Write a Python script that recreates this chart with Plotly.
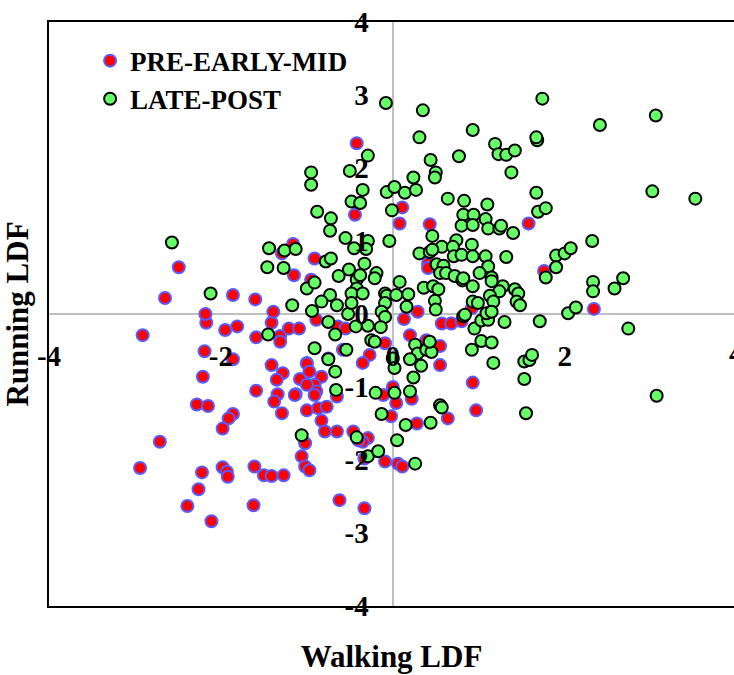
import plotly.graph_objects as go

# ---------------- data ----------------
SERIES_A = "PRE-EARLY-MID"
SERIES_B = "LATE-POST"

pre_x = [-2.91, -2.65, -2.49, -2.94, -2.71, -2.39, -2.26, -2.22, -2.11, -2.19,
         -1.86, -2.21, -1.59, -2.28, -2.15, -1.86, -1.91, -1.98, -1.98, -1.93,
         -1.92, -1.61, -1.50, -1.41, -1.27, -1.62, -2.17, -1.95, -1.81, -1.59,
         -1.41, -1.31, -1.31, -1.21, -1.09, -1.41, -1.28, -1.35, -1.08, -1.00,
         -1.34, -1.38, -1.29, -1.13, -1.00, -1.06, -1.02, -1.02, -1.86, -1.60,
         -2.18, -1.39, -1.16, -1.29, -1.15, -0.91, -0.95, -0.89, -0.44, -0.42,
         0.11, 0.08, 0.43, -0.64, -0.55, 0.13, 0.29, 0.41, 0.41, 0.92,
         0.57, 0.68, 0.80, 0.93, -0.27, -0.35, -0.09, 0.20, 0.39, 0.55,
         0.55, -0.58, -0.75, -1.00, -0.97, -0.83, -0.91, -1.00, -0.89, -0.65,
         0.00, -0.11, -1.14, -0.91, -0.87, -0.77, -0.83, -0.79, -0.65, -0.46,
         -0.29, -0.35, -0.97, -0.62, -0.33, -0.09, 0.06, 0.11, -0.02, 0.28,
         0.64, 0.97, 0.04, 0.22, -0.40, -0.33, 1.58, 1.76, 2.34]
pre_y = [-0.29, 0.22, 0.64, -2.11, -1.75, -2.63, -2.40, -2.17, -2.84, -0.51,
         -0.62, -0.86, -1.05, -1.24, -1.26, -1.37, -1.43, -1.57, -2.10, -2.16,
         -2.23, -2.09, -2.21, -2.22, -2.21, -2.62, -0.12, -0.22, -0.17, -0.32,
         -0.12, -0.30, -0.38, -0.20, -0.20, -0.70, -0.81, -0.90, -0.89, -0.67,
         -1.10, -1.20, -1.36, -1.10, -1.32, -1.95, -2.09, -1.77, 0.26, 0.20,
         0.00, 0.03, 0.96, 0.83, 0.53, 0.76, 0.47, -0.08, 1.36, 2.34,
         1.46, 1.24, 1.23, -0.17, -0.20, -0.07, 0.03, 0.69, 0.63, 0.08,
         -0.13, -0.13, -0.10, -0.94, -0.56, -0.67, -0.40, -0.29, -0.36, -0.44,
         -0.70, -0.49, -0.61, -0.68, -0.79, -0.86, -0.97, -0.97, -1.06, -1.13,
         -1.00, -1.11, -1.11, -1.11, -1.29, -1.27, -1.46, -1.61, -1.61, -1.61,
         -1.70, -1.75, -2.14, -2.55, -2.66, -2.02, -2.05, -2.09, -1.40, -1.50,
         -1.43, -1.32, -1.22, -1.16, -1.73, -1.98, 1.24, 0.59, 0.07]

late_x = [-2.57, -2.12, -1.45, -1.06, -1.44, -1.26, -1.13, -1.46, -1.27, -0.95,
          -0.95, -0.88, -1.00, -0.91, -1.17, -0.94, -0.78, -0.72, -0.72, -0.73,
          -0.55, -0.45, -0.50, -0.48, -0.38, -0.35, -0.29, -0.63, -0.51, -0.42,
          -0.42, -0.73, -0.83, -0.65, -0.48, -0.75, -0.67, -0.52, -0.08, 0.35,
          0.93, 0.31, 0.44, 0.77, 0.50, 0.49, 0.24, -0.07, 0.02, 0.14,
          0.27, -0.01, 0.64, 0.83, 0.82, 0.94, 0.80, 0.93, 0.46, 0.74,
          -0.29, -0.04, 0.57, 0.70, 0.92, -0.31, -0.33, -0.38, -0.19, -0.21,
          0.08, -0.35, -0.48, -0.09, -0.07, 0.04, 0.18, -0.09, -0.13, -0.09,
          0.16, -0.43, -0.29, -0.14, 0.31, 0.43, 0.46, 0.71, 0.80, 0.93,
          0.51, 0.59, 0.55, 0.62, 0.72, 0.81, 0.93, 0.36, 0.47, 0.53,
          0.49, 0.50, 0.82, 0.93, 0.95, 0.92, -0.25, -0.21, 0.00, 0.26,
          0.29, 0.39, 0.45, 0.43, 0.20, 0.33, 0.02, 0.24, 0.20, 0.02,
          -0.20, -0.67, -0.66, -0.91, -0.75, -0.54, -0.42, -0.29, -0.17, -0.13,
          0.15, 0.44, 0.55, 0.57, 0.05, 0.26, 1.19, 1.23, 1.32, 1.42,
          1.68, 1.38, 1.67, 3.02, 1.69, 1.78, 1.10, 1.08, 1.11, 1.24,
          1.26, 1.40, 2.32, 1.08, 1.11, 1.01, 1.15, 1.32, 1.90, 2.00,
          2.07, 1.90, 1.78, 2.33, 2.33, 2.58, 2.68, 0.82, 1.28, 1.42,
          1.46, 1.24, 1.13, 1.15, 1.44, 1.48, 1.17, 0.99, 0.84, 1.03,
          1.11, 1.09, 1.15, 1.30, 1.71, 2.04, 2.13, 2.74, 1.03, 1.15,
          1.17, 1.53, 1.59, 1.62, 1.53, 1.55, 3.07, 1.74, 2.41, 3.06,
          1.67, 3.52]
late_y = [0.98, 0.28, -0.28, -1.66, 0.90, 0.87, 0.89, 0.64, 0.63, 1.94,
          1.77, 1.40, 0.35, 0.43, 0.12, 0.04, 0.72, 0.76, 1.31, 1.14,
          1.04, 0.90, 1.96, 1.54, 1.52, 1.70, 2.17, 0.52, 0.61, 0.47,
          0.35, 0.26, 0.17, 0.12, 0.28, -0.11, -0.28, 0.00, 2.89, 2.79,
          2.52, 2.42, 2.11, 2.16, 1.94, 1.87, 1.87, 1.67, 1.74, 1.66,
          1.70, 1.42, 1.58, 1.55, 1.36, 1.36, 1.21, 1.22, 1.07, 1.01,
          1.00, 1.00, 0.92, 0.92, 0.95, 0.89, 0.69, 0.53, 0.56, 0.49,
          0.44, 0.28, 0.15, 0.28, 0.25, 0.26, 0.27, 0.15, 0.03, -0.04,
          0.10, -0.17, -0.16, -0.18, 0.83, 0.85, 0.88, 0.79, 0.81, 0.79,
          0.68, 0.66, 0.56, 0.56, 0.52, 0.46, 0.38, 0.36, 0.38, 0.34,
          0.18, 0.06, -0.03, 0.17, -0.20, -0.49, -0.36, -0.38, -0.61, -0.42,
          -0.54, -0.49, -0.52, -0.38, -0.62, -0.71, -0.74, -0.87, -1.06, -1.08,
          -1.08, -0.79, -1.04, -0.47, -0.62, -0.49, -1.69, -1.95, -1.88, -1.37,
          -1.52, -1.49, -1.25, -1.28, -1.73, -2.05, 2.33, 2.19, 2.18, 2.24,
          2.38, 1.94, 1.66, 1.68, 1.40, 1.45, 1.50, 1.30, 1.17, 1.17,
          1.21, 1.11, 1.00, 0.79, 0.65, 0.56, 0.50, 0.78, 0.80, 0.83,
          0.90, 0.64, 0.50, 0.44, 0.31, 0.35, 0.49, 0.49, 0.38, 0.34,
          0.28, 0.31, 0.25, 0.45, 0.17, 0.12, 0.17, 0.15, -0.01, -0.09,
          -0.08, 0.01, 0.03, -0.11, -0.10, 0.01, 0.09, -0.20, -0.37, -0.39,
          -0.67, -0.65, -0.63, -0.56, -0.89, -1.36, -1.12, 2.95, 2.59, 2.72,
          2.42, 1.58]

x_tick_vals = [-4, -2, 0, 2, 4]
y_tick_vals = [-4, -3, -2, -1, 0, 1, 2, 3, 4]
X_RANGE = [-4, 3.97]
Y_RANGE = [-4, 4]
X_TITLE = "Walking LDF"
Y_TITLE = "Running LDF"

# ---------------- style ----------------
FONT = "Liberation Serif, Times New Roman, serif"
TICK_SIZE = 29

fig = go.Figure()
fig.add_trace(go.Scatter(
    x=pre_x, y=pre_y, mode="markers", name=SERIES_A,
    marker=dict(size=12, color="#ff0000", line=dict(color="#5a5aff", width=2)),
))
fig.add_trace(go.Scatter(
    x=late_x, y=late_y, mode="markers", name=SERIES_B,
    marker=dict(size=12, color="#66ff66", line=dict(color="#000000", width=2)),
))
# helper subplot that only carries the tick labels placed on the zero lines
fig.add_trace(go.Scatter(x=[None], y=[None], xaxis="x2", yaxis="y2",
                         showlegend=False, hoverinfo="skip"))

fig.update_layout(
    width=734, height=675,
    margin=dict(l=49, r=0, t=22, b=69),
    paper_bgcolor="white", plot_bgcolor="white",
    font=dict(family=FONT, color="black"),
    showlegend=True,
    legend=dict(x=0.06, y=0.975, xanchor="left", yanchor="top",
                bgcolor="rgba(0,0,0,0)", itemwidth=30,
                font=dict(family=FONT, size=27, weight="bold", color="black")),
    xaxis=dict(range=X_RANGE, showline=True, linecolor="black", linewidth=2,
               mirror=True, showgrid=False, zeroline=True, zerolinecolor="#bfbfbf",
               zerolinewidth=2, showticklabels=False, ticks="",
               title=dict(text=X_TITLE, standoff=38,
                          font=dict(family=FONT, size=31, weight="bold"))),
    yaxis=dict(range=Y_RANGE, showline=True, linecolor="black", linewidth=2,
               mirror=False, showgrid=False, zeroline=True, zerolinecolor="#bfbfbf",
               zerolinewidth=2, showticklabels=False, ticks="",
               title=dict(text=Y_TITLE, standoff=10,
                          font=dict(family=FONT, size=31, weight="bold"))),
    xaxis2=dict(range=X_RANGE, overlaying="x", anchor="free",
                position=(0 - Y_RANGE[0]) / (Y_RANGE[1] - Y_RANGE[0]),
                showline=False, showgrid=False, zeroline=False, ticks="",
                tickvals=x_tick_vals, ticktext=[str(v) for v in x_tick_vals],
                ticklabelstandoff=22,
                tickfont=dict(family=FONT, size=TICK_SIZE, weight="bold")),
    yaxis2=dict(range=Y_RANGE, overlaying="y", anchor="free", side="left",
                position=(0 - X_RANGE[0]) / (X_RANGE[1] - X_RANGE[0]),
                showline=False, showgrid=False, zeroline=False, ticks="",
                tickvals=y_tick_vals, ticktext=[str(v) for v in y_tick_vals],
                ticklabelstandoff=24,
                tickfont=dict(family=FONT, size=TICK_SIZE, weight="bold")),
)

# the "4" label of the walking axis falls just past the visible plot edge
last = x_tick_vals[-1]
fig.add_annotation(
    x=(last - X_RANGE[0]) / (X_RANGE[1] - X_RANGE[0]), xref="paper",
    y=(0 - Y_RANGE[0]) / (Y_RANGE[1] - Y_RANGE[0]), yref="paper",
    text=str(last), showarrow=False, xanchor="center", yanchor="middle", yshift=-39,
    font=dict(family=FONT, size=TICK_SIZE, weight="bold", color="black"),
)

fig.write_html("out.html")
